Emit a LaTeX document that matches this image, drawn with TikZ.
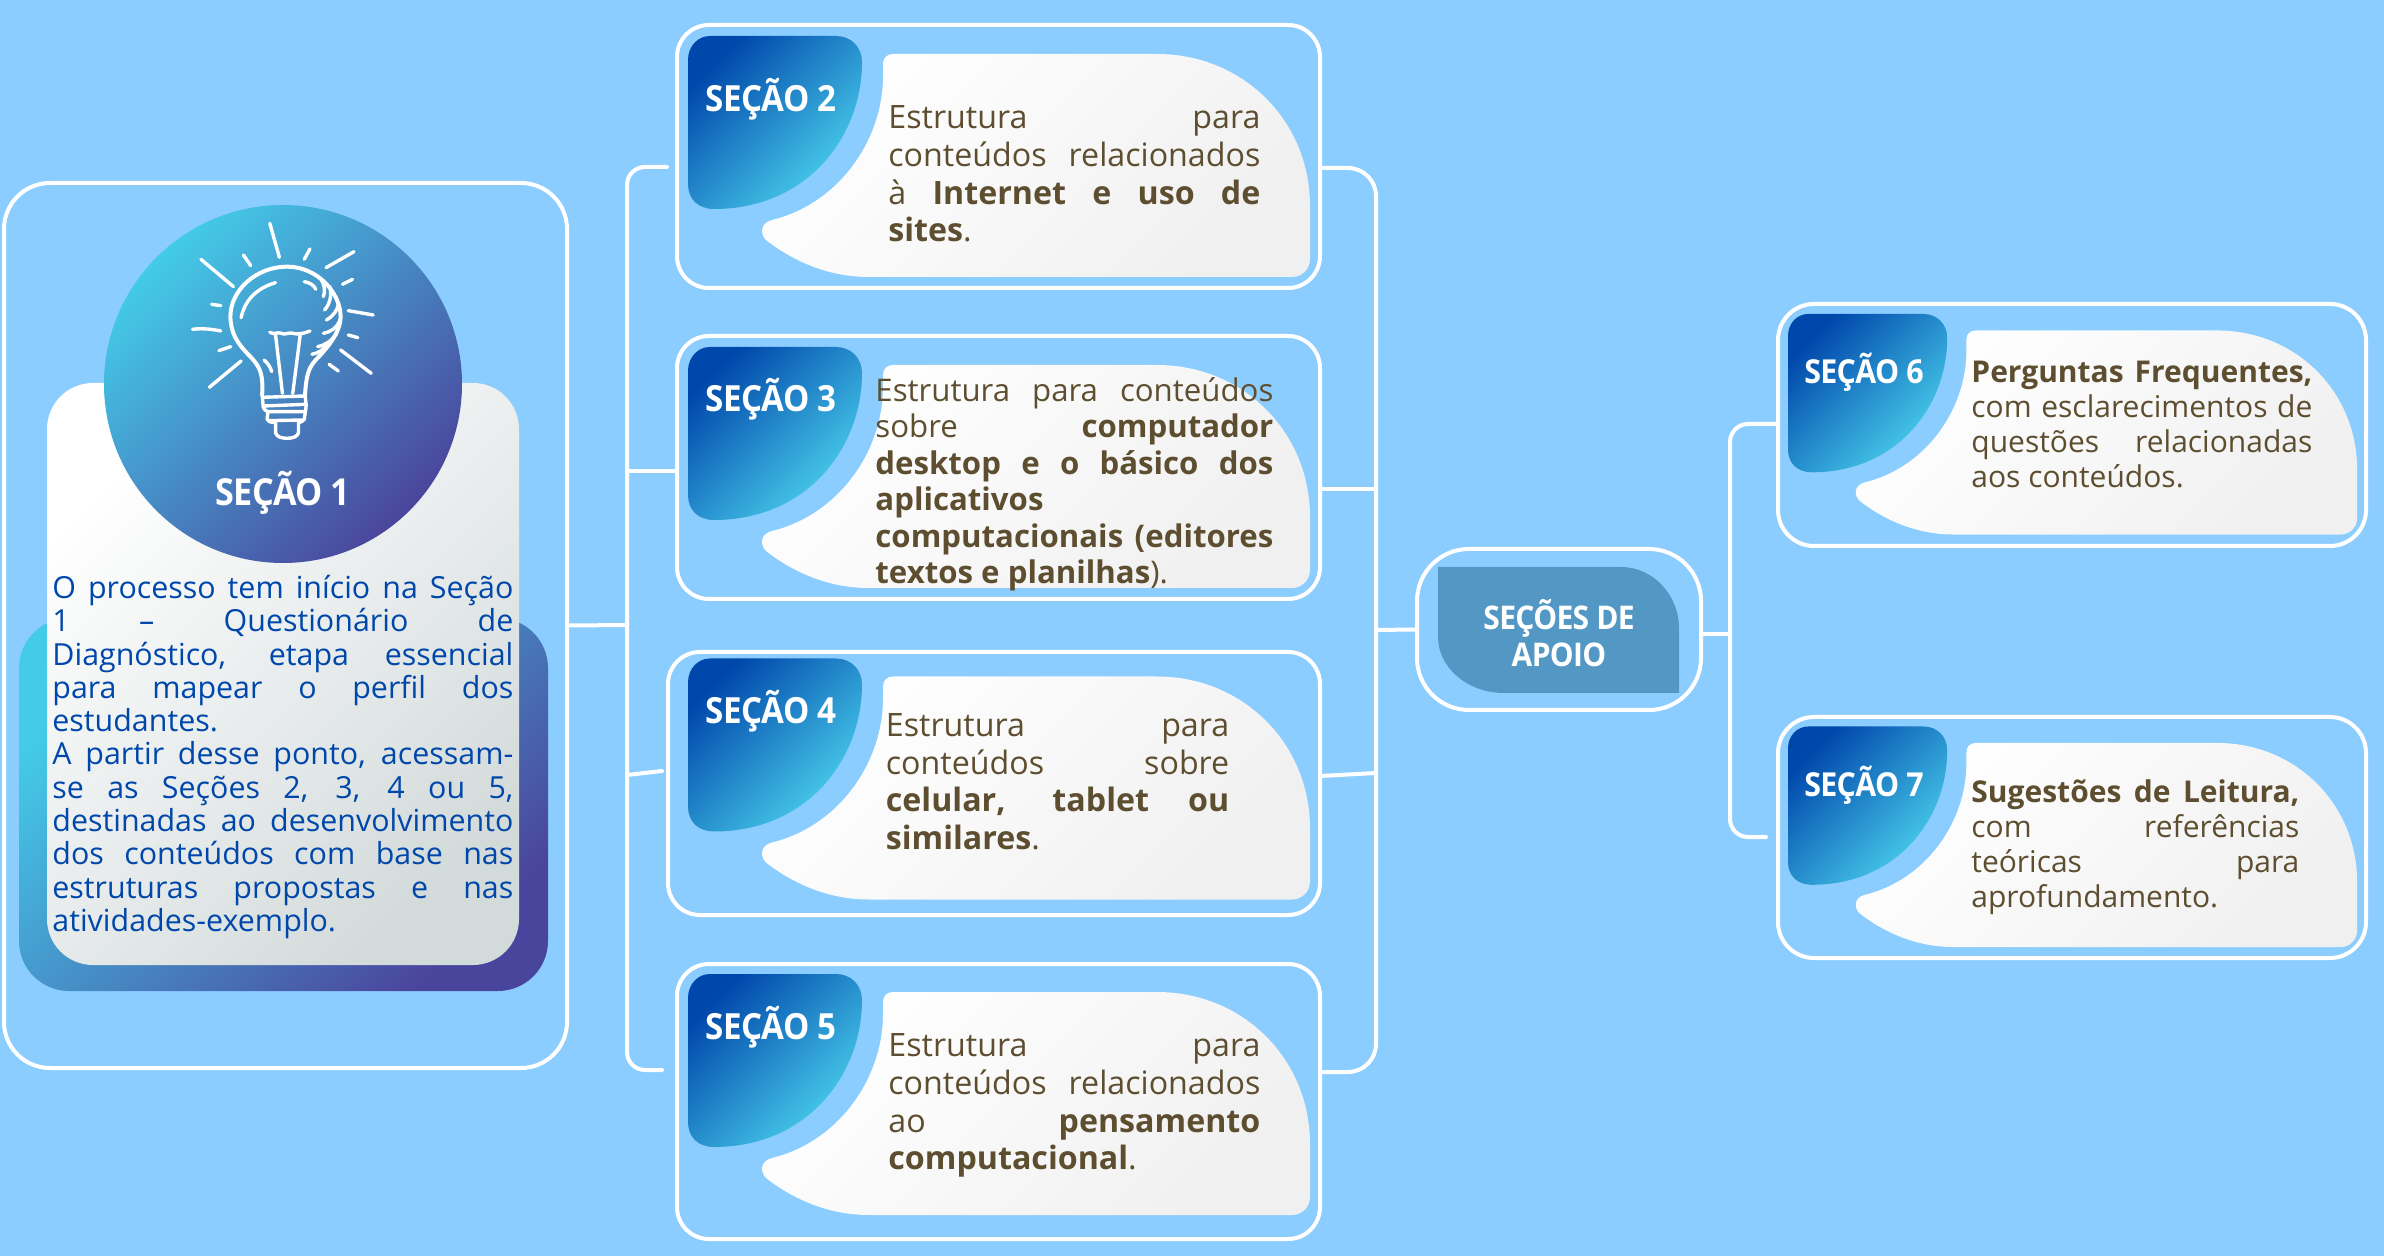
\documentclass[tikz,border=0pt]{standalone}
\usepackage{fontspec}
\setmainfont{Open Sans}
\usetikzlibrary{calc}
\definecolor{bgc}{HTML}{8CCDFF}
\definecolor{bodyblue}{HTML}{0047AB}
\definecolor{bodybrown}{HTML}{5E4E30}
\definecolor{tabA}{HTML}{0047AB}
\definecolor{tabB}{HTML}{4CD4EE}
\definecolor{cirA}{HTML}{43CBE9}
\definecolor{cirB}{HTML}{4A459C}
\definecolor{cardB}{HTML}{F0F0F0}
\definecolor{apoio}{HTML}{5398C4}
\definecolor{cardS}{HTML}{D3DADA}
\newdimen\lw
\newcommand{\jl}[1]{\hbox to\lw{#1}}
\newcommand{\lastln}[1]{\hbox{#1}}
\newcommand{\bft}[1]{\textbf{#1}}
\newcommand{\txtpara}[3]{\vtop{\lw=#1\relax\baselineskip=#2\relax\lineskiplimit=-100pt\relax #3}}
\tikzset{
  wire/.style={white,line width=2pt,line cap=round,line join=round},
  frame/.style={draw=white,line width=2pt,inner sep=0pt,rectangle},
  tabshade/.style={shade,top color=tabA,bottom color=tabB,shading angle=45},
  cardshade/.style={shade,top color=white,bottom color=cardB,shading angle=45},
  title/.style={text=white,inner sep=0pt,anchor=base,font=\fontsize{#1}{#1}\selectfont\bfseries\addfontfeatures{FakeStretch=.92,LetterSpace=-2}},
  bodyb/.style={text=bodybrown,inner sep=0pt,anchor=base west,font=\fontsize{#1}{#1}\selectfont},
  bodys/.style={text=bodyblue,inner sep=0pt,anchor=base west,font=\fontsize{#1}{#1}\selectfont},
  bulb/.style={white,line width=1.7pt,line cap=round,line join=round}
}
\newcommand{\secframe}[6]{% name l t r b radius (pt)
  \pgfmathsetmacro{\fcx}{(#2+#4)/2}\pgfmathsetmacro{\fcy}{(#3+#5)/2}
  \pgfmathsetmacro{\fw}{(#4-#2)*0.5}\pgfmathsetmacro{\fh}{(#5-#3)*0.5}
  \node[frame,rounded corners=#6pt,minimum width=\fw pt,minimum height=\fh pt] (#1) at (\fcx,\fcy) {};
}
\newcommand{\seccard}[3]{% x y scale
  \begin{scope}[shift={(#1,#2)},scale=#3]
    \path[tabshade] (22,0) -- (148,0) .. controls (163,0) and (174,11) .. (174,26)
      .. controls (174,100) and (120,173) .. (26,173)
      .. controls (10,173) and (0,163) .. (0,148) -- (0,24)
      .. controls (0,10) and (10,0) .. (22,0) -- cycle;
    \path[cardshade] (205,18) -- (469,18) .. controls (555,18) and (622,85) .. (622,170)
      -- (622,223) .. controls (622,233) and (614,241) .. (604,241)
      -- (181,241) .. controls (140,241) and (105,225) .. (78,204)
      .. controls (72,198) and (72,187) .. (84,184)
      .. controls (150,168) and (195,105) .. (195,40)
      -- (195,28) .. controls (195,22) and (199,18) .. (205,18) -- cycle;
  \end{scope}
}
\begin{document}
\begin{tikzpicture}[x=0.5pt,y=-0.5pt]
\useasboundingbox (0,0) rectangle (2384,1256);
\fill[bgc] (0,0) rectangle (2384,1256);

% frames
\secframe{s1}{4}{183}{567}{1068}{23}
\secframe{s2}{677}{25}{1320}{288}{16}
\secframe{s3}{677}{336}{1320}{599}{16}
\secframe{s4}{668}{652}{1320}{915}{16}
\secframe{s5}{677}{964}{1320}{1239}{16}
\secframe{sa}{1417}{549}{1701}{710}{26}
\secframe{s6}{1778}{304}{2366}{546}{18}
\secframe{s7}{1778}{717}{2366}{958}{18}

% connector points
\coordinate (l2) at (667,167); \coordinate (lc2) at (627,167);
\coordinate (lj) at (627,625);
\coordinate (l3) at (627,471);
\coordinate (l4a) at (627,775); \coordinate (l4) at (662,771);
\coordinate (l5) at (662,1070); \coordinate (lc5) at (627,1070);
\coordinate (r2) at (1376,168);
\coordinate (r3) at (1376,489);
\coordinate (r4a) at (1320,776); \coordinate (r4) at (1376,773);
\coordinate (r5) at (1376,1072);
\coordinate (ra) at (1376,630);
\coordinate (aj) at (1730,634);
\coordinate (c6) at (1730,424);
\coordinate (c7) at (1730,837); \coordinate (e7) at (1766,837);

% connectors
\draw[wire] (s1.east) -- (lj);
\draw[wire,rounded corners=9pt] (l2) -- (lc2) -- (lc5) -- (l5);
\draw[wire] (l3) -- (s3.west |- l3);
\draw[wire] (l4a) -- (l4);
\draw[wire,rounded corners=14pt] (s2.east |- r2) -- (r2) -- (r5) -- (s5.east |- r5);
\draw[wire] (s3.east |- r3) -- (r3);
\draw[wire] (r4a) -- (r4);
\draw[wire] (ra) -- (sa.west);
\draw[wire] (sa.east |- aj) -- (aj);
\draw[wire,rounded corners=9pt] (s6.west |- c6) -- (c6) -- (c7) -- (e7);

% section 1
\path[shade,top color=cirA,bottom color=cirB,shading angle=45,rounded corners=25pt] (19,618) rectangle (548,991);
\path[shade,top color=white,bottom color=cardS,shading angle=45,rounded corners=23pt] (47,383) rectangle (519,965);
\path[shade,top color=cirA,bottom color=cirB,shading angle=45] (283,384) circle [x radius=179,y radius=179];

\begin{scope}[shift={(0,170)},xscale=.3827,yscale=.3333]
  \draw[bulb] (705,160)--(730,262) (810,237)--(795,268) (925,245)--(852,293)
    (921,328)--(895,343) (910,422)--(975,435) (910,495)--(935,503)
    (890,540)--(970,610) (860,583)--(884,603) (525,268)--(610,350)
    (636,255)--(655,287) (553,403)--(577,407)
    (503,478) .. controls (530,474) and (555,478) .. (577,483)
    (603,530)--(572,542) (630,573)--(547,652);
  \draw[bulb,line width=2pt] (685,675) .. controls (688,610) and (680,590) .. (650,555)
    .. controls (620,520) and (603,490) .. (602,440)
    .. controls (602,360) and (670,290) .. (750,290)
    .. controls (830,290) and (890,370) .. (890,440)
    .. controls (890,490) and (850,540) .. (825,570)
    .. controls (805,595) and (800,620) .. (797,675);
  \draw[bulb] (630,443) .. controls (640,390) and (670,355) .. (720,338)
    (795,335) .. controls (810,338) and (820,345) .. (825,358)
    (840,330) .. controls (848,345) and (850,365) .. (845,380)
    (862,350) .. controls (868,380) and (860,405) .. (848,420)
    (885,400) .. controls (882,420) and (870,440) .. (853,450)
    (888,450) .. controls (880,475) and (865,485) .. (845,490)
    (880,490) .. controls (865,515) and (850,525) .. (830,530)
    (860,520) .. controls (845,540) and (830,550) .. (815,553);
  \draw[bulb] (705,487) .. controls (715,495) and (725,485) .. (735,490)
    .. controls (745,497) and (755,485) .. (765,490)
    .. controls (780,495) and (795,490) .. (810,483)
    (720,495) -- (738,670) (785,490) -- (765,670)
    (690,570) .. controls (700,580) and (706,590) .. (710,605);
  \draw[bulb] (685,675) -- (688,712) .. controls (690,720) and (695,722) .. (700,725)
    -- (698,748) .. controls (700,755) and (705,756) .. (720,758)
    (797,675) -- (800,705) .. controls (800,715) and (798,722) .. (798,725)
    -- (795,748) .. controls (792,755) and (785,756) .. (780,758)
    (685,682) -- (797,678) (690,708) -- (800,703) (700,725) -- (798,725)
    (700,752) -- (795,750)
    (720,758) -- (720,788) .. controls (722,800) and (735,805) .. (750,805)
    .. controls (765,805) and (778,800) .. (780,788) -- (780,758);
\end{scope}

\node[title=18.6] (t1) at (283,505.5) {SEÇÃO 1};
\node[bodys=15.2] (b1) at (52,598.5) {\txtpara{230.5pt}{16.65pt}{%
  \jl{O processo tem início na Seção}
  \jl{1 – Questionário de}
  \jl{Diagnóstico, etapa essencial}
  \jl{para mapear o perfil dos}
  \lastln{estudantes.}
  \jl{A partir desse ponto, acessam-}
  \jl{se as Seções 2, 3, 4 ou 5,}
  \jl{destinadas ao desenvolvimento}
  \jl{dos conteúdos com base nas}
  \jl{estruturas propostas e nas}
  \lastln{atividades-exemplo.}}};

% sections 2-5
\seccard{688}{36}{1}
\node[title=18] (t2) at (771,112) {SEÇÃO 2};
\node[bodyb=16.1] (b2) at (888,128.5) {\txtpara{186pt}{18.9pt}{%
  \jl{Estrutura para}
  \jl{conteúdos relacionados}
  \jl{à \bft{Internet e uso de}}
  \lastln{\bft{sites}.}}};

\seccard{688}{347}{1}
\node[title=18] (t3) at (771,412) {SEÇÃO 3};
\node[bodyb=15.6] (b3) at (875,401.5) {\txtpara{199pt}{18.2pt}{%
  \jl{Estrutura para conteúdos}
  \jl{sobre \bft{computador}}
  \jl{\bft{desktop e o básico dos}}
  \lastln{\bft{aplicativos}}
  \jl{\bft{computacionais (editores}}
  \lastln{\bft{textos e planilhas}).}}};

\seccard{688}{658.5}{1}
\node[title=18] (t4) at (771,724) {SEÇÃO 4};
\node[bodyb=16.1] (b4) at (885.5,736.5) {\txtpara{171.7pt}{18.8pt}{%
  \jl{Estrutura para}
  \jl{conteúdos sobre}
  \jl{\bft{celular, tablet ou}}
  \lastln{\bft{similares}.}}};

\seccard{688}{974}{1}
\node[title=18] (t5) at (771,1039) {SEÇÃO 5};
\node[bodyb=16.1] (b5) at (888,1056.5) {\txtpara{186pt}{18.9pt}{%
  \jl{Estrutura para}
  \jl{conteúdos relacionados}
  \jl{ao \bft{pensamento}}
  \lastln{\bft{computacional}.}}};

% seções de apoio
\path[fill=apoio] (1438,567) -- (1621,567) .. controls (1653,567) and (1679,595) .. (1679,628)
  -- (1679,693) -- (1504,693) .. controls (1468,693) and (1438,668) .. (1438,637) -- cycle;
\node[text=white,inner sep=0pt,anchor=base,align=center,font=\fontsize{16.3}{18.5}\selectfont\bfseries\addfontfeatures{FakeStretch=.92,LetterSpace=-2}] (ta) at (1559,666.5) {SEÇÕES DE\\APOIO};

% sections 6-7
\seccard{1788}{314}{0.915}
\node[title=16.5] (t6) at (1864,383.5) {SEÇÃO 6};
\node[bodyb=15] (b6) at (1971,382.5) {\txtpara{170.5pt}{17.5pt}{%
  \jl{\bft{Perguntas Frequentes,}}
  \jl{com esclarecimentos de}
  \jl{questões relacionadas}
  \lastln{aos conteúdos.}}};

\seccard{1788}{726.5}{0.915}
\node[title=16.5] (t7) at (1864,797) {SEÇÃO 7};
\node[bodyb=15] (b7) at (1971,802) {\txtpara{164pt}{17.6pt}{%
  \jl{\bft{Sugestões de Leitura,}}
  \jl{com referências}
  \jl{teóricas para}
  \lastln{aprofundamento.}}};
\end{tikzpicture}
\end{document}
